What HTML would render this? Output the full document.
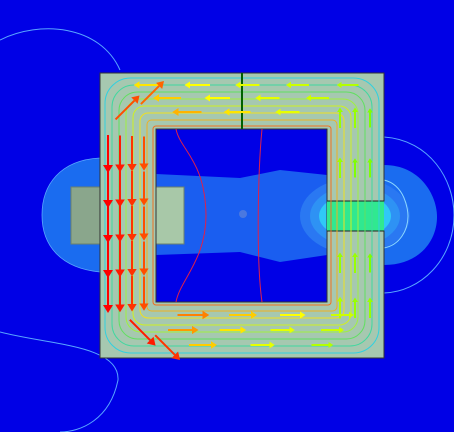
<!DOCTYPE html>
<html><head><meta charset="utf-8"><style>
html,body{margin:0;padding:0;background:#0000e6;}
svg{display:block;font-family:"Liberation Sans",sans-serif;}
</style></head><body>
<svg id="plot" width="454" height="432" viewBox="0 0 454 432" xmlns="http://www.w3.org/2000/svg">
<rect x="0" y="0" width="454" height="432" fill="#0000e6"/>
<path d="M0,40 C40,20 100,25 120,70 M0,332 C50,345 120,345 118,380 C110,420 80,432 60,432" fill="none" stroke="#59a6ff" stroke-width="1"/>
<path d="M384,137 C430,140 454,180 454,215 C454,260 420,292 384,293" fill="none" stroke="#59a6ff" stroke-width="1"/>
<g>
<path d="M100,158 C60,160 42,185 42,215 C42,245 60,268 100,272 Z" fill="#1a6cf0" stroke="#59a6ff" stroke-width="0.8"/>
<path d="M384,165 C420,165 437,195 437,217 C437,240 420,265 384,265 Z" fill="#1a6cf0"/>
<path d="M156,174 L240,178 L280,170 L327,175 L327,255 L280,262 L240,252 L156,255 Z" fill="#1a5ef0"/>
<ellipse cx="355" cy="216" rx="55" ry="38" fill="#2a78f2"/>
<ellipse cx="355" cy="216" rx="45" ry="30" fill="#2e92f4"/>
<ellipse cx="355" cy="216" rx="36" ry="22" fill="#30c8f6"/>
<path d="M384,180 C405,185 408,210 408,216 C408,230 400,245 384,248" fill="none" stroke="#8cd8ff"/>
</g>
<rect x="71" y="187" width="29" height="57" fill="#8aa68c" stroke="#6a806e"/>
<rect x="156" y="187" width="28" height="57" fill="#a8c8a8" stroke="#6a806e"/>
<path fill-rule="evenodd" d="M100,73 H384 V201 H327 V231 H384 V358 H100 Z M156,129 V302 H327 V129 Z" fill="#a6c8b0" stroke="#333" stroke-width="1"/>
<rect x="327" y="201" width="57" height="30" fill="#30e890"/>
<line x1="327" y1="201" x2="384" y2="201" stroke="#222"/><line x1="327" y1="231" x2="384" y2="231" stroke="#222"/>
<g id="flux"></g>
<line x1="242" y1="73" x2="242" y2="129" stroke="#006000" stroke-width="2"/>
<path d="M176,129 C180,150 205,160 206,215 C206,260 180,280 176,302" fill="none" stroke="#e0204a" stroke-width="1"/>
<path d="M262,129 C258,170 256,260 262,302" fill="none" stroke="#e0204a" stroke-width="1"/>
<circle cx="243" cy="214" r="4" fill="#4a78e0"/>
<g id="arrows"></g>
</svg>
<script>
const loopInsets = [5, 12, 19, 26, 33, 40, 47, 53];
const loopColors = ["#30d0e0","#40d8a0","#60e060","#a0f040","#d0f020","#f0e020","#f0b020","#f07020"];
// arrows: [x, y, dx, dy, magnitude 0..1]
const arrowX = [108,120,132,144, 108,120,132,144, 108,120,132,144, 108,120,132,144, 108,120,132,144,
  150,200,250,300,350, 170,220,270,320, 190,240,290,
  340,355,370, 340,355,370, 340,355,370, 340,355,370,
  190,240,290,340, 180,230,280,330, 200,260,320,
  125,150, 140,165];
const arrowY = [150,150,150,150, 185,185,185,185, 220,220,220,220, 255,255,255,255, 290,290,290,290,
  85,85,85,85,85, 98,98,98,98, 112,112,112,
  120,120,120, 170,170,170, 265,265,265, 310,310,310,
  315,315,315,315, 330,330,330,330, 345,345,345,
  110,95, 330,345];
const arrowDX= [0,0,0,0, 0,0,0,0, 0,0,0,0, 0,0,0,0, 0,0,0,0,
  -1,-1,-1,-1,-1, -1,-1,-1,-1, -1,-1,-1,
  0,0,0, 0,0,0, 0,0,0, 0,0,0,
  1,1,1,1, 1,1,1,1, 1,1,1,
  0.7,0.7, 0.7,0.7];
const arrowDY= [1,1,1,1, 1,1,1,1, 1,1,1,1, 1,1,1,1, 1,1,1,1,
  0,0,0,0,0, 0,0,0,0, 0,0,0,
  -1,-1,-1, -1,-1,-1, -1,-1,-1, -1,-1,-1,
  0,0,0,0, 0,0,0,0, 0,0,0,
  -0.7,-0.7, 0.7,0.7];
const arrowMag=[1,0.95,0.9,0.85, 1,0.95,0.9,0.85, 1,0.95,0.9,0.85, 1,0.95,0.9,0.85, 1,0.95,0.9,0.85,
  0.55,0.5,0.45,0.4,0.35, 0.6,0.5,0.45,0.4, 0.65,0.55,0.45,
  0.3,0.3,0.25, 0.3,0.25,0.25, 0.3,0.3,0.25, 0.35,0.3,0.3,
  0.75,0.6,0.5,0.4, 0.7,0.55,0.45,0.4, 0.6,0.45,0.35,
  0.85,0.8, 0.95,0.9];
const ns="http://www.w3.org/2000/svg";
const flux=document.getElementById('flux');
loopInsets.forEach((d,i)=>{
  const p=document.createElementNS(ns,'rect');
  
  
  const x0=100+d,y0=73+d,x1=384-d,y1=358-d;
  p.setAttribute('x',x0);p.setAttribute('y',y0);
  p.setAttribute('width',x1-x0);p.setAttribute('height',y1-y0);
  p.setAttribute('rx',Math.max(3,28-d*0.5));
  p.setAttribute('fill','none');p.setAttribute('stroke',loopColors[i]);p.setAttribute('stroke-width','1');
  flux.appendChild(p);
});
function col(m){const r=m>0.5?255:Math.round(510*m),g=m>0.5?Math.round(510*(1-m)):255;return `rgb(${r},${g},0)`;}
const ag=document.getElementById('arrows');
arrowX.forEach((x,i)=>{
  const y=arrowY[i],m=arrowMag[i],L=10+20*m,dx=arrowDX[i],dy=arrowDY[i];
  const c=col(m);
  const l=document.createElementNS(ns,'line');
  
  
  l.setAttribute('x1',x-dx*L/2);l.setAttribute('y1',y-dy*L/2);
  l.setAttribute('x2',x+dx*L/2);l.setAttribute('y2',y+dy*L/2);
  l.setAttribute('stroke',c);l.setAttribute('stroke-width','2');
  ag.appendChild(l);
  const tx=x+dx*L/2,ty=y+dy*L/2,h=3+5*m,w=2+3*m;
  const t=document.createElementNS(ns,'polygon');
  
  
  t.setAttribute('points',`${tx+dx*h},${ty+dy*h} ${tx-dy*w},${ty+dx*w} ${tx+dy*w},${ty-dx*w}`);
  t.setAttribute('fill',c);
  ag.appendChild(t);
});
</script>
</body></html>
